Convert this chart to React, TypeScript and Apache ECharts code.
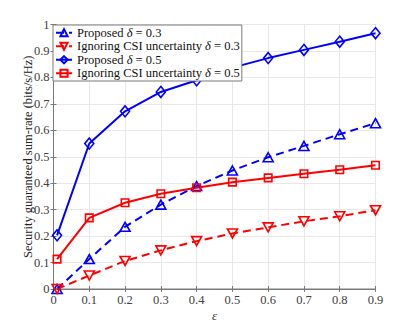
import React, { useEffect, useRef } from "react";
import * as echarts from "echarts";

const epsilon = [0.01, 0.1, 0.2, 0.3, 0.4, 0.5, 0.6, 0.7, 0.8, 0.9];
const proposed03 = [0.0, 0.113, 0.235, 0.319, 0.389, 0.448, 0.498, 0.541, 0.585, 0.627];
const ignoring03 = [0.0, 0.051, 0.106, 0.146, 0.181, 0.21, 0.233, 0.256, 0.275, 0.298];
const proposed05 = [0.203, 0.55, 0.672, 0.745, 0.789, 0.837, 0.873, 0.904, 0.935, 0.967];
const ignoring05 = [0.113, 0.269, 0.326, 0.36, 0.383, 0.404, 0.42, 0.436, 0.451, 0.468];
const seriesNames = [
  "Proposed δ = 0.3",
  "Ignoring CSI uncertainty δ = 0.3",
  "Proposed δ = 0.5",
  "Ignoring CSI uncertainty δ = 0.5",
];

const FONT = "Liberation Serif";
const fmt = (v: number) => (Math.abs(v) < 1e-9 ? "0" : String(+v.toFixed(1)));

export default function App() {
  const ref = useRef<HTMLDivElement>(null);
  useEffect(() => {
    if (!ref.current) return;
    const chart = echarts.init(ref.current, null, { renderer: "svg" });
    const mk = (
      name: string,
      ys: number[],
      color: string,
      symbol: string,
      size: number | number[],
      dashed: boolean,
      rotate = 0
    ) => ({
      name,
      type: "line",
      data: epsilon.map((x, i) => [x, ys[i]]),
      symbol,
      symbolSize: size,
      symbolRotate: rotate,
      showAllSymbol: true,
      lineStyle: { color, width: 2, type: dashed ? [8, 5] : "solid" },
      itemStyle: { color: "rgba(255,255,255,0)", borderColor: color, borderWidth: 1.6 },
      emphasis: { disabled: true },
      z: 3,
    });
    const axisCommon = {
      axisLine: { show: true, lineStyle: { color: "#7a7a7a", width: 1 } },
      axisTick: { show: true, inside: true, length: 3, lineStyle: { color: "#7a7a7a" } },
    };
    chart.setOption({
      animation: false,
      backgroundColor: "#fff",
      textStyle: { fontFamily: FONT },
      grid: {
        left: 53.5,
        top: 24.5,
        width: 322,
        height: 266.5,
        show: true,
        borderColor: "#7a7a7a",
        borderWidth: 1,
        backgroundColor: "#fff",
      },
      legend: {
        orient: "vertical",
        left: 53,
        top: 25,
        data: seriesNames,
        backgroundColor: "#fff",
        borderColor: "#7a7a7a",
        borderWidth: 1,
        borderRadius: 0,
        padding: [1, 2, 1, 2],
        itemWidth: 16,
        itemHeight: 9,
        itemGap: 0,
        selectedMode: false,
        formatter: (n: string) => {
          const [a, b] = n.split("δ");
          return `{n|${a}}{i|δ}{n|${b}}`;
        },
        textStyle: {
          fontFamily: FONT,
          fontSize: 12.5,
          color: "#111",
          lineHeight: 13.5,
          rich: {
            n: { fontFamily: FONT, fontSize: 12.5, color: "#111", lineHeight: 13.5 },
            i: { fontFamily: FONT, fontSize: 12.5, fontStyle: "italic", color: "#111", lineHeight: 13.5 },
          },
        },
      },
      xAxis: [
        {
          type: "value",
          min: 0,
          max: 0.9,
          interval: 0.1,
          name: "ε",
          nameLocation: "middle",
          nameGap: 20,
          nameMoveOverlap: false,
          nameTextStyle: { fontFamily: FONT, fontSize: 13, fontStyle: "italic", color: "#333" },
          ...axisCommon,
          axisLabel: { fontFamily: FONT, fontSize: 12.5, color: "#404040", margin: 4, formatter: fmt },
          splitLine: { show: true, lineStyle: { color: "#e8e8e8", width: 1 } },
        },
        {
          type: "value",
          position: "top",
          min: 0,
          max: 0.9,
          interval: 0.1,
          ...axisCommon,
          axisLabel: { show: false },
          splitLine: { show: false },
        },
      ],
      yAxis: [
        {
          type: "value",
          min: 0,
          max: 1,
          interval: 0.1,
          name: "Security guaranteed sum-rate (bits/s/Hz)",
          nameLocation: "middle",
          nameGap: 19,
          nameMoveOverlap: false,
          nameTextStyle: { fontFamily: FONT, fontSize: 12.5, color: "#222" },
          ...axisCommon,
          axisLabel: { fontFamily: FONT, fontSize: 12.5, color: "#404040", margin: 4, formatter: fmt },
          splitLine: { show: true, lineStyle: { color: "#e8e8e8", width: 1 } },
        },
        {
          type: "value",
          position: "right",
          min: 0,
          max: 1,
          interval: 0.1,
          ...axisCommon,
          axisLabel: { show: false },
          splitLine: { show: false },
        },
      ],
      series: [
        mk(seriesNames[0], proposed03, "#0000ff", "triangle", [10, 9], true),
        mk(seriesNames[1], ignoring03, "#ff0000", "triangle", [10, 9], true, 180),
        mk(seriesNames[2], proposed05, "#0000ff", "diamond", [9, 11], false),
        mk(seriesNames[3], ignoring05, "#ff0000", "rect", 7.5, false),
      ],
    });
    return () => chart.dispose();
  }, []);
  return (
    <div
      ref={ref}
      style={{ position: "fixed", left: 0, top: 0, width: 415, height: 327 }}
    />
  );
}
